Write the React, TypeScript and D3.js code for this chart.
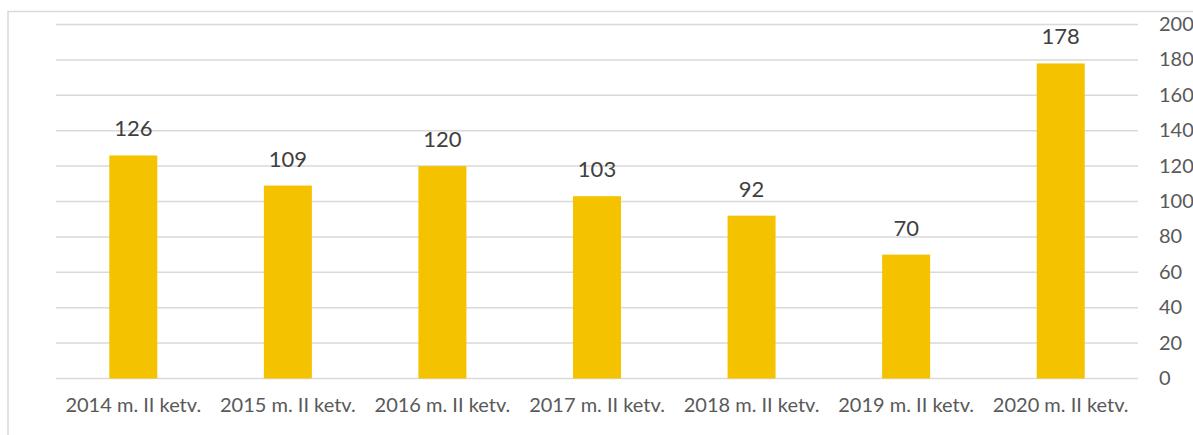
import React, { useEffect, useRef } from "react";
import * as d3 from "d3";

const categories = [
  "2014 m. II ketv.",
  "2015 m. II ketv.",
  "2016 m. II ketv.",
  "2017 m. II ketv.",
  "2018 m. II ketv.",
  "2019 m. II ketv.",
  "2020 m. II ketv.",
];
const values = [126, 109, 120, 103, 92, 70, 178];
const yTicks = [0, 20, 40, 60, 80, 100, 120, 140, 160, 180, 200];

const App: React.FC = () => {
  const svgRef = useRef<SVGSVGElement>(null);

  useEffect(() => {
    if (!svgRef.current) return;
    const svg = d3.select(svgRef.current);
    svg.selectAll("*").remove();

    const width = 1193;
    const height = 435;
    const left = 56;
    const right = 1138;
    const top = 24.5;
    const bottom = 378.5;
    const font = "Lato, Carlito, 'Open Sans', sans-serif";

    svg.attr("width", width).attr("height", height);

    // outer frame (extends past the visible area)
    svg
      .append("rect")
      .attr("x", 8)
      .attr("y", 11.5)
      .attr("width", width + 20)
      .attr("height", height + 20)
      .attr("fill", "#fff")
      .attr("stroke", "#d9d9d9")
      .attr("stroke-width", 1.5);

    const x = d3.scaleBand<string>().domain(categories).range([left, right]);
    const y = d3.scaleLinear().domain([0, 200]).range([bottom, top]);

    // gridlines
    svg
      .append("g")
      .selectAll("line")
      .data(yTicks)
      .enter()
      .append("line")
      .attr("x1", left)
      .attr("x2", right)
      .attr("y1", (d) => y(d))
      .attr("y2", (d) => y(d))
      .attr("stroke", "#d9d9d9")
      .attr("stroke-width", 1.5);

    // right axis labels
    svg
      .append("g")
      .selectAll("text")
      .data(yTicks)
      .enter()
      .append("text")
      .attr("x", 1159)
      .attr("y", (d) => y(d) + 6.5)
      .attr("fill", "#595959")
      .style("font-family", font)
      .style("font-size", "20px")
      .text((d) => d);

    const bw = 48;

    // bars
    svg
      .append("g")
      .selectAll("rect")
      .data(values)
      .enter()
      .append("rect")
      .attr("x", (d, i) => x(categories[i])! + x.bandwidth() / 2 - bw / 2)
      .attr("y", (d) => y(d))
      .attr("width", bw)
      .attr("height", (d) => bottom - y(d))
      .attr("fill", "#f5c200");

    // value labels
    svg
      .append("g")
      .selectAll("text")
      .data(values)
      .enter()
      .append("text")
      .attr("x", (d, i) => x(categories[i])! + x.bandwidth() / 2)
      .attr("y", (d) => y(d) - 19)
      .attr("text-anchor", "middle")
      .attr("fill", "#404040")
      .style("font-family", font)
      .style("font-size", "22px")
      .text((d) => d);

    // category labels
    svg
      .append("g")
      .selectAll("text")
      .data(categories)
      .enter()
      .append("text")
      .attr("x", (d) => x(d)! + x.bandwidth() / 2)
      .attr("y", 412)
      .attr("text-anchor", "middle")
      .attr("fill", "#595959")
      .style("font-family", font)
      .style("font-size", "20px")
      .text((d) => d);
  }, []);

  return (
    <svg
      ref={svgRef}
      style={{ position: "absolute", left: 0, top: 0, display: "block" }}
    />
  );
};

export default App;
